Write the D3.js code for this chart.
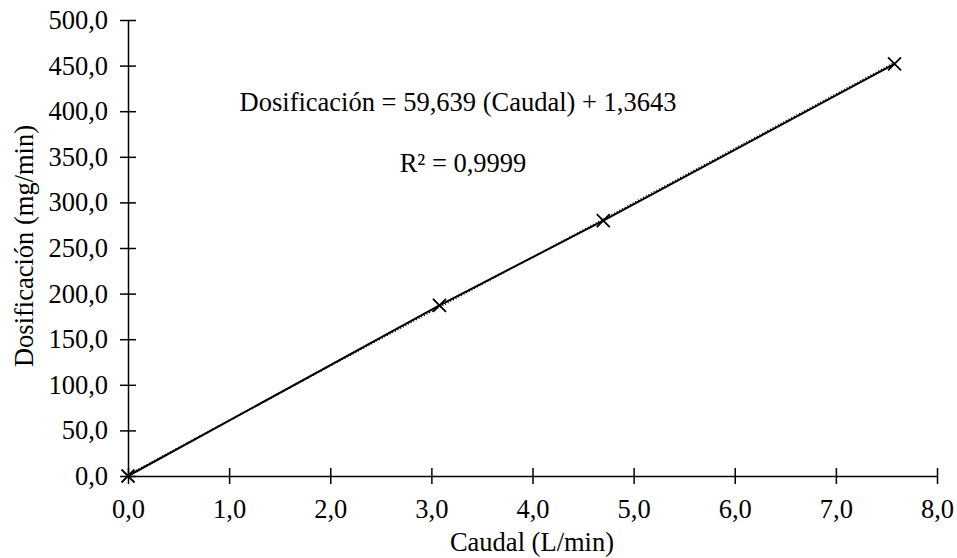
<!DOCTYPE html>
<html>
<head>
<meta charset="utf-8">
<script src="https://cdn.jsdelivr.net/npm/d3@7"></script>
<style>
  body { margin: 0; background: #fff; }
  svg text { font-family: "Liberation Serif", "Times New Roman", serif; fill: #000; }
</style>
</head>
<body>
<svg id="chart" width="957" height="558"></svg>
<script>
// Measured flow rate (L/min) and dosage (mg/min)
const caudal = [0, 3.08, 4.70, 7.58];
const dosificacion = [0, 187, 280, 452];
const xTicks = [0, 1, 2, 3, 4, 5, 6, 7, 8];
const yTicks = [0, 50, 100, 150, 200, 250, 300, 350, 400, 450, 500];
const slope = 59.639, intercept = 1.3643;

const FS = 26.5;
const svg = d3.select("#chart");
const x = d3.scaleLinear().domain([0, 8]).range([128, 937]);
const y = d3.scaleLinear().domain([0, 500]).range([476, 20]);
const fmt = v => v.toFixed(1).replace(".", ",");

// X axis with ticks crossing the line
const xAxis = svg.append("g").attr("transform", `translate(0,${y(0)})`)
  .call(d3.axisBottom(x).tickValues(xTicks).tickFormat(fmt).tickSizeInner(8).tickSizeOuter(0).tickPadding(15));
xAxis.selectAll(".tick line").attr("y1", -8).attr("stroke-width", 1.5);
xAxis.select(".domain").attr("stroke-width", 1.5);
xAxis.selectAll("text").attr("font-size", FS).attr("font-family", "Liberation Serif");

// Y axis
const yAxis = svg.append("g").attr("transform", `translate(${x(0)},0)`)
  .call(d3.axisLeft(y).tickValues(yTicks).tickFormat(fmt).tickSizeInner(8).tickSizeOuter(0).tickPadding(12));
yAxis.selectAll(".tick line").attr("x1", 8).attr("stroke-width", 1.5);
yAxis.select(".domain").attr("stroke-width", 1.5);
yAxis.selectAll("text").attr("font-size", FS).attr("font-family", "Liberation Serif");

// Linear trendline (dotted)
const trend = [0, d3.max(caudal)].map(v => [v, slope * v + intercept]);
svg.append("path")
  .attr("d", d3.line().x(d => x(d[0])).y(d => y(d[1]))(trend))
  .attr("fill", "none").attr("stroke", "#000").attr("stroke-width", 1.5)
  .attr("stroke-dasharray", "1,2");

// Data series line
const pts = caudal.map((c, i) => [c, dosificacion[i]]);
svg.append("path")
  .attr("d", d3.line().x(d => x(d[0])).y(d => y(d[1]))(pts))
  .attr("fill", "none").attr("stroke", "#000").attr("stroke-width", 2);

// X markers
const m = 6.5;
svg.append("g").selectAll("path").data(pts).join("path")
  .attr("transform", d => `translate(${x(d[0])},${y(d[1])})`)
  .attr("d", `M${-m},${-m}L${m},${m}M${-m},${m}L${m},${-m}`)
  .attr("stroke", "#000").attr("stroke-width", 1.8).attr("fill", "none");

// Regression annotation
svg.append("text").attr("x", 458).attr("y", 111).attr("text-anchor", "middle")
  .attr("font-size", FS).text("Dosificación = 59,639 (Caudal) + 1,3643");
svg.append("text").attr("x", 463).attr("y", 172).attr("text-anchor", "middle")
  .attr("font-size", FS).text("R² = 0,9999");

// Axis titles
svg.append("text").attr("x", 532).attr("y", 551).attr("text-anchor", "middle")
  .attr("font-size", FS).text("Caudal (L/min)");
svg.append("text").attr("transform", "translate(33,246) rotate(-90)")
  .attr("text-anchor", "middle").attr("font-size", FS).text("Dosificación (mg/min)");
</script>
</body>
</html>
